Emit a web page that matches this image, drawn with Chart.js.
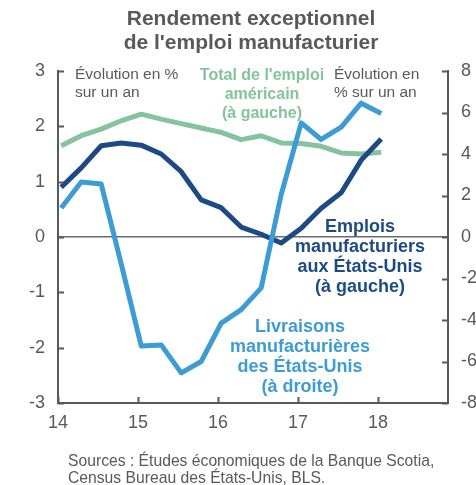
<!DOCTYPE html>
<html lang="fr">
<head>
  <meta charset="UTF-8">
  <title>Rendement exceptionnel de l'emploi manufacturier</title>
  <style>
    body { margin: 0; background: #fff; }
    .wrap { position: relative; width: 476px; height: 485px; }
  </style>
  <script src="https://cdn.jsdelivr.net/npm/chart.js@4.4.1/dist/chart.umd.min.js"></script>
</head>
<body>
  <div class="wrap"><canvas id="chart"></canvas></div>
  <script>
    // quarterly observations, decimal years (14 = 2014)
    const quarters = [14.04, 14.29, 14.54, 14.79, 15.04, 15.29, 15.54, 15.79, 16.04,
                      16.29, 16.54, 16.79, 17.04, 17.29, 17.54, 17.79, 18.04];
    // Total de l'emploi américain (à gauche), % a/a
    const totalEmploi = [1.65, 1.83, 1.95, 2.10, 2.22, 2.13, 2.05, 1.97, 1.89,
                         1.76, 1.83, 1.70, 1.69, 1.64, 1.52, 1.50, 1.53];
    // Emplois manufacturiers aux États-Unis (à gauche), % a/a
    const emploisManuf = [0.90, 1.25, 1.65, 1.70, 1.66, 1.50, 1.18, 0.67, 0.53,
                          0.18, 0.05, -0.11, 0.16, 0.52, 0.80, 1.39, 1.77];
    // Livraisons manufacturières des États-Unis (à droite), % a/a
    const livraisons = [1.40, 2.65, 2.55, -1.30, -5.25, -5.20, -6.55, -6.00, -4.15,
                        -3.50, -2.45, 2.05, 5.50, 4.70, 5.30, 6.45, 5.95];
    const xTicks = [14, 15, 16, 17, 18];

    const GREY = '#595959';
    const FONT = "'Liberation Sans', Arial, sans-serif";

    const pts = vals => vals.map((v, i) => ({ x: quarters[i], y: v }));

    // tick marks point into the plot, and all the free text
    const decor = {
      id: 'decor',
      afterDraw(chart) {
        const { ctx, chartArea: a, scales } = chart;
        ctx.save();
        ctx.strokeStyle = GREY;
        ctx.lineWidth = 2;
        ctx.beginPath();
        scales.y.ticks.forEach(t => {
          const py = Math.round(scales.y.getPixelForValue(t.value)) + 0.5;
          ctx.moveTo(a.left, py); ctx.lineTo(a.left + 6, py);
        });
        scales.y2.ticks.forEach(t => {
          const py = Math.round(scales.y2.getPixelForValue(t.value)) + 0.5;
          ctx.moveTo(a.right, py); ctx.lineTo(a.right - 6, py);
        });
        scales.x.ticks.forEach(t => {
          const px = Math.round(scales.x.getPixelForValue(t.value)) + 0.5;
          ctx.moveTo(px, a.bottom); ctx.lineTo(px, a.bottom - 6);
        });
        ctx.stroke();

        const lines = (arr, x, y, step, color, font, align) => {
          ctx.fillStyle = color;
          ctx.font = font;
          ctx.textAlign = align;
          ctx.textBaseline = 'middle';
          arr.forEach((s, i) => ctx.fillText(s, x, y + i * step));
        };
        // title
        lines(['Rendement exceptionnel', "de l'emploi manufacturier"], 251, 19, 24,
              GREY, 'bold 21px ' + FONT, 'center');
        // axis notes
        lines(['Évolution en %', 'sur un an'], 75, 75, 18, GREY, '15.5px ' + FONT, 'left');
        lines(['Évolution en', '% sur un an'], 334, 75, 18, GREY, '15.5px ' + FONT, 'left');
        // series labels
        lines(["Total de l'emploi", 'américain', '(à gauche)'], 262, 76, 19,
              '#84c39d', 'bold 16px ' + FONT, 'center');
        lines(['Emplois', 'manufacturiers', 'aux États-Unis', '(à gauche)'], 360, 227, 20,
              '#1d4a85', 'bold 18px ' + FONT, 'center');
        lines(['Livraisons', 'manufacturières', 'des États-Unis', '(à droite)'], 300, 327, 20,
              '#3d9dd3', 'bold 18px ' + FONT, 'center');
        // sources
        lines(['Sources : Études économiques de la Banque Scotia,', 'Census Bureau des États-Unis, BLS.'],
              68, 462, 17, GREY, '15.7px ' + FONT, 'left');
        ctx.restore();
      }
    };

    new Chart(document.getElementById('chart'), {
      type: 'line',
      data: {
        datasets: [
          { label: 'Livraisons manufacturières des États-Unis', data: pts(livraisons), yAxisID: 'y2',
            borderColor: '#3d9dd3', order: 0 },
          { label: 'Emplois manufacturiers aux États-Unis', data: pts(emploisManuf), yAxisID: 'y',
            borderColor: '#1d4a85', order: 1 },
          { label: "Total de l'emploi américain", data: pts(totalEmploi), yAxisID: 'y',
            borderColor: '#84c39d', order: 2 }
        ].map(d => Object.assign(d, {
          borderWidth: 5, pointRadius: 0, tension: 0, fill: false,
          borderJoinStyle: 'round', borderCapStyle: 'butt'
        }))
      },
      options: {
        responsive: true,
        maintainAspectRatio: false,
        animation: false,
        layout: { padding: { top: 71, left: 0, right: 0, bottom: 0 } },
        plugins: { legend: { display: false }, tooltip: { enabled: false } },
        scales: {
          x: {
            type: 'linear', min: 14, max: 18.875,
            afterBuildTicks: s => { s.ticks = xTicks.map(v => ({ value: v })); },
            afterFit: s => { s.height = 82; },
            grid: { display: false, drawTicks: false },
            border: { display: true, color: GREY, width: 2 },
            ticks: { color: GREY, font: { family: FONT, size: 18 }, padding: 9, maxRotation: 0 }
          },
          y: {
            position: 'left', min: -3, max: 3,
            ticks: { stepSize: 1, color: GREY, font: { family: FONT, size: 18 }, padding: 13 },
            afterFit: s => { s.width = 58; },
            grid: {
              drawTicks: false,
              color: c => c.tick.value === 0 ? '#6b6b6b' : 'rgba(0,0,0,0)',
              lineWidth: 1.5
            },
            border: { display: true, color: GREY, width: 2 }
          },
          y2: {
            position: 'right', min: -8, max: 8,
            ticks: { stepSize: 2, color: GREY, font: { family: FONT, size: 18 }, padding: 13 },
            afterFit: s => { s.width = 28; },
            grid: { display: false, drawTicks: false },
            border: { display: true, color: GREY, width: 2 }
          }
        }
      },
      plugins: [decor]
    });
  </script>
</body>
</html>
